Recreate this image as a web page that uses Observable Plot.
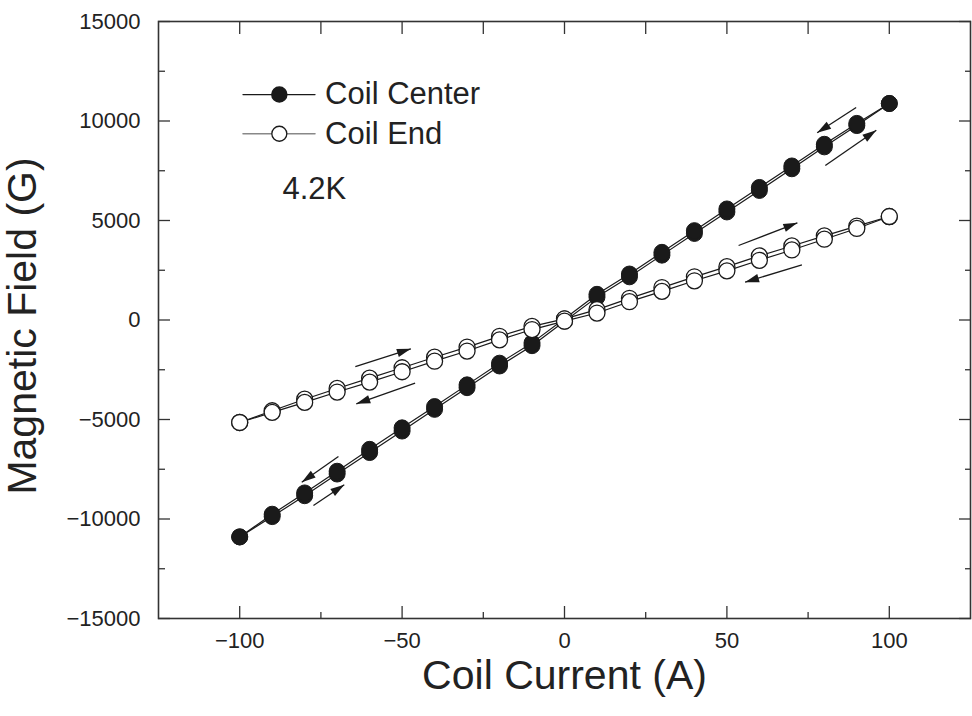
<!DOCTYPE html>
<html><head><meta charset="utf-8">
<script src="https://cdn.jsdelivr.net/npm/d3@7"></script>
<script src="https://cdn.jsdelivr.net/npm/@observablehq/plot@0.6"></script>
<style>
body{margin:0;background:#fff;}
#chart svg{display:block;}
</style></head><body><div id="chart"></div>
<script>
// ---- data ----
const currents = [-100,-90,-80,-70,-60,-50,-40,-30,-20,-10,0,10,20,30,40,50,60,70,80,90,100];
// Coil Center: ascending sweep (-100 -> 100) and descending sweep (100 -> -100)
const centerAsc  = [-10900,-9880,-8830,-7740,-6660,-5580,-4490,-3400,-2310,-1290,-60,1150,2170,3260,4350,5430,6510,7600,8700,9770,10880];
const centerDesc = [-10900,-9760,-8690,-7600,-6500,-5420,-4350,-3260,-2170,-1150,60,1290,2310,3400,4490,5580,6660,7740,8830,9880,10880];
// Coil End
const endAsc  = [-5150,-4560,-3980,-3440,-2920,-2400,-1870,-1360,-820,-320,60,520,1090,1630,2170,2680,3220,3720,4230,4720,5200];
const endDesc = [-5150,-4640,-4140,-3620,-3120,-2600,-2070,-1560,-1000,-480,-60,350,920,1440,1970,2470,3000,3520,4060,4600,5200];

// sweep-direction arrows (data units)
const arrowX1 = [89.8, 80.3, 53.6, 73.1, -64.4, -46.0, -69.6, -77.3];
const arrowY1 = [10678, 7764, 3744, 2774, -2337, -3176, -6859, -9322];
const arrowX2 = [77.8, 96.0, 71.7, 55.6, -47.3, -64.1, -80.9, -67.8];
const arrowY2 = [9407, 9533, 4884, 1899, -1447, -4211, -8151, -8281];

// legend
const legendNames = ["Coil Center", "Coil End"];
const legendLineX = [-99.0, -76.8];
const legendDotX = -87.8;
const legendY = [11330, 9360];
const legendTextX = -73.7;
const tempLabel = "4.2K";
const tempX = -77, tempY = 6600;

const xMajor = [-100,-50,0,50,100];
const xMinor = [-75,-25,25,75];
const yMajor = [-15000,-10000,-5000,0,5000,10000,15000];
const yMinor = [-12500,-7500,-2500,2500,7500,12500];
const xDomain = [-125,125];
const yDomain = [-15000,15000];
const xTitle = "Coil Current (A)";
const yTitle = "Magnetic Field (G)";

// ---- build rows ----
function rows(series, branch, vals){ return currents.map((c,i)=>({series, branch, current:c, field:vals[i]})); }
const centerRows = [...rows("Coil Center","asc",centerAsc), ...rows("Coil Center","desc",centerDesc)];
const endRows = [...rows("Coil End","asc",endAsc), ...rows("Coil End","desc",endDesc)];
const arrows = arrowX1.map((x1,i)=>({x1, y1:arrowY1[i], x2:arrowX2[i], y2:arrowY2[i]}));

const W = 972, H = 716, mL = 158, mR = 2, mT = 21, mB = 98;
const pxX = (W-mL-mR)/(xDomain[1]-xDomain[0]);
const pxY = (H-mT-mB)/(yDomain[1]-yDomain[0]);
arrows.forEach(a=>{
  const dx = (a.x2-a.x1)*pxX, dy = -(a.y2-a.y1)*pxY;
  a.angle = Math.atan2(dx, -dy)*180/Math.PI;
});
const headSymbol = { draw(ctx){ ctx.moveTo(0,0); ctx.lineTo(-4.2,14); ctx.lineTo(4.2,14); ctx.closePath(); } };

const legendRows = legendNames.map((n,i)=>({name:n, y:legendY[i]}));
const ink = "#1a1a1a", axisInk = "#333";
const fmt = d3.format("d");

const plot = Plot.plot({
  width: W, height: H,
  marginLeft: mL, marginRight: mR, marginTop: mT, marginBottom: mB,
  style: {fontFamily: "'Liberation Sans', Arial, Helvetica, sans-serif", fontSize: "22px", color: "#222", background: "#fff"},
  x: {domain: xDomain, label: null},
  y: {domain: yDomain, label: null},
  marks: [
    // ticks (inward) on all four sides
    Plot.axisX(xMajor, {anchor:"bottom", tickSize:-12, tickFormat:()=>"", stroke:axisInk, strokeWidth:1.3, label:null}),
    Plot.axisX(xMinor, {anchor:"bottom", tickSize:-6, tickFormat:()=>"", stroke:axisInk, strokeWidth:1.3, label:null}),
    Plot.axisX([...xMajor, ...xMinor], {anchor:"top", tickSize:-12, tickFormat:()=>"", stroke:axisInk, strokeWidth:1.3, label:null}),
    Plot.axisY(yMajor, {anchor:"left", tickSize:-12, tickFormat:()=>"", stroke:axisInk, strokeWidth:1.3, label:null}),
    Plot.axisY(yMinor, {anchor:"left", tickSize:-7, tickFormat:()=>"", stroke:axisInk, strokeWidth:1.3, label:null}),
    Plot.axisY(yMajor, {anchor:"right", tickSize:-12, tickFormat:()=>"", stroke:axisInk, strokeWidth:1.3, label:null}),
    Plot.axisY(yMinor, {anchor:"right", tickSize:-6, tickFormat:()=>"", stroke:axisInk, strokeWidth:1.3, label:null}),
    // tick labels
    Plot.axisX(xMajor, {anchor:"bottom", tickSize:0, tickPadding:14, tickFormat:fmt, fontSize:22, fill:"#222", label:null}),
    Plot.axisY(yMajor, {anchor:"left", tickSize:0, tickPadding:18, tickFormat:fmt, fontSize:22, fill:"#222", label:null}),
    Plot.frame({stroke: axisInk, strokeWidth: 1.6}),
    // axis titles
    Plot.text([xTitle], {frameAnchor:"bottom", textAnchor:"middle", lineAnchor:"middle", dy:57, fontSize:41, fill:"#222"}),
    Plot.text([yTitle], {frameAnchor:"left", textAnchor:"middle", lineAnchor:"middle", dx:-136, dy:6, rotate:-90, fontSize:41, fill:"#222"}),
    // data lines
    Plot.line(centerRows, {x:"current", y:"field", z:"branch", stroke:ink, strokeWidth:1.2}),
    Plot.line(endRows, {x:"current", y:"field", z:"branch", stroke:ink, strokeWidth:1.2}),
    Plot.dot(centerRows, {x:"current", y:"field", r:8, fill:ink, stroke:ink, strokeWidth:1}),
    Plot.dot(endRows, {x:"current", y:"field", r:8, fill:"#fff", stroke:ink, strokeWidth:1.3}),
    // sweep arrows
    Plot.link(arrows, {x1:"x1", y1:"y1", x2:"x2", y2:"y2", stroke:ink, strokeWidth:1.3}),
    Plot.dot(arrows, {x:"x2", y:"y2", symbol:headSymbol, rotate:"angle", fill:ink, stroke:"none", r:5}),
    // legend
    Plot.line(legendLineX.map(x=>({x, y:legendY[0]})), {x:"x", y:"y", stroke:ink, strokeWidth:1.2}),
    Plot.line(legendLineX.map(x=>({x, y:legendY[1]})), {x:"x", y:"y", stroke:"#888", strokeWidth:1.4}),
    Plot.dot([legendRows[0]], {x:()=>legendDotX, y:"y", r:7.5, fill:ink, stroke:ink}),
    Plot.dot([legendRows[1]], {x:()=>legendDotX, y:"y", r:7.5, fill:"#fff", stroke:ink, strokeWidth:1.3}),
    Plot.text(legendRows, {x:()=>legendTextX, y:"y", text:"name", textAnchor:"start", fontSize:31, fill:"#222"}),
    Plot.text([tempLabel], {x:()=>tempX, y:()=>tempY, fontSize:31, fill:"#222"})
  ]
});
document.getElementById("chart").appendChild(plot);
</script></body></html>
